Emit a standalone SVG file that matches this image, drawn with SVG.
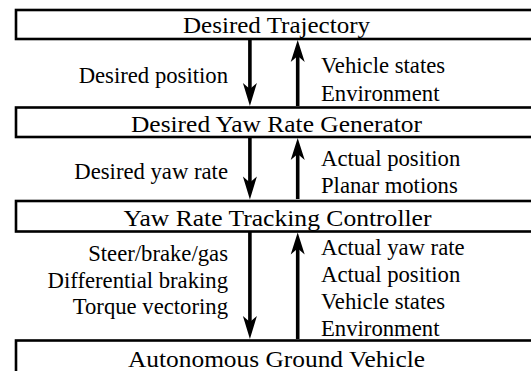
<svg xmlns="http://www.w3.org/2000/svg" width="531" height="371" viewBox="0 0 531 371" font-family="Liberation Serif, Tinos, Times New Roman, serif">
<style>
.box{fill:#fff;stroke:#000;stroke-width:2.6}
.ttl{font-family:'Liberation Serif',Tinos,'Times New Roman',serif;font-size:24px;text-anchor:middle;fill:#000}
.lbl{font-family:'Liberation Serif',Tinos,'Times New Roman',serif;font-size:22.7px;fill:#000}
.l{text-anchor:end}
.shaft{stroke:#000;stroke-width:3.6;fill:none}
.head{fill:#000}
</style>
<rect width="531" height="371" fill="#fff"/>
<g id="desired-trajectory">
<rect class="box" x="16" y="10" width="600" height="29"/>
<text class="ttl" x="276.5" y="32.5" textLength="187" lengthAdjust="spacingAndGlyphs">Desired Trajectory</text>
</g>
<g id="yaw-rate-generator">
<rect class="box" x="16" y="107.5" width="600" height="29.5"/>
<text class="ttl" x="276.5" y="132" textLength="291" lengthAdjust="spacingAndGlyphs">Desired Yaw Rate Generator</text>
</g>
<g id="tracking-controller">
<rect class="box" x="16" y="201" width="600" height="30.5"/>
<text class="ttl" x="277.5" y="225.8" textLength="308" lengthAdjust="spacingAndGlyphs">Yaw Rate Tracking Controller</text>
</g>
<g id="ground-vehicle">
<rect class="box" x="16" y="340.5" width="600" height="60"/>
<text class="ttl" x="276.5" y="367" textLength="297" lengthAdjust="spacingAndGlyphs">Autonomous Ground Vehicle</text>
</g>
<g id="connectors">
<path class="shaft" d="M249.9,40 V92"/>
<path class="head" d="M249.9,106 L242.9,83 L249.9,89 L256.9,83 Z"/>
<path class="shaft" d="M297.7,106 V54"/>
<path class="head" d="M297.7,40 L290.7,62 L297.7,56 L304.7,62 Z"/>
<path class="shaft" d="M249.9,138 V185"/>
<path class="head" d="M249.9,199.5 L242.9,176.5 L249.9,182.5 L256.9,176.5 Z"/>
<path class="shaft" d="M297.7,199 V152"/>
<path class="head" d="M297.7,138 L290.7,160 L297.7,154 L304.7,160 Z"/>
<path class="shaft" d="M249.9,232 V325"/>
<path class="head" d="M249.9,339 L242.9,316 L249.9,322 L256.9,316 Z"/>
<path class="shaft" d="M297.7,339 V247"/>
<path class="head" d="M297.7,232.5 L290.7,254.5 L297.7,248.5 L304.7,254.5 Z"/>
<text class="lbl l" x="228" y="83">Desired position</text>
<text class="lbl" x="321" y="72.8">Vehicle states</text>
<text class="lbl" x="321" y="100.9">Environment</text>
<text class="lbl l" x="228" y="179.3">Desired yaw rate</text>
<text class="lbl" x="321" y="165.7">Actual position</text>
<text class="lbl" x="321" y="192.8">Planar motions</text>
<text class="lbl l" x="228" y="261">Steer/brake/gas</text>
<text class="lbl l" x="228" y="287.5">Differential braking</text>
<text class="lbl l" x="228" y="314">Torque vectoring</text>
<text class="lbl" x="321" y="254.8">Actual yaw rate</text>
<text class="lbl" x="321" y="281.8">Actual position</text>
<text class="lbl" x="321" y="309.2">Vehicle states</text>
<text class="lbl" x="321" y="336.4">Environment</text>
</g>
</svg>
